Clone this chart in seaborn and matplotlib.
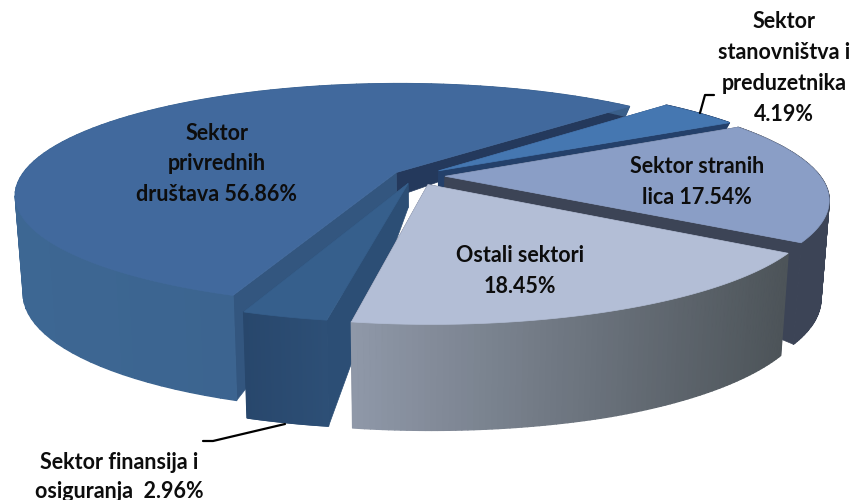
import numpy as np
import matplotlib
matplotlib.use('Agg')
import matplotlib.pyplot as plt
from matplotlib.collections import PolyCollection
from matplotlib.colors import to_rgb
from matplotlib.patches import Polygon
import seaborn as sns

sns.set_theme(style="white")
plt.rcParams['font.family'] = ['Lato', 'DejaVu Sans']

# podaci
sectors = ["Sektor\nprivrednih\ndruštava 56.86%", "Sektor finansija i\nosiguranja  2.96%",
           "Ostali sektori\n18.45%", "Sektor stranih\nlica 17.54%",
           "Sektor\nstanovništva i\npreduzetnika\n4.19%"]
values = [56.86, 2.96, 18.45, 17.54, 4.19]
explode = [0.06, 0.07, 0.085, 0.08, 0.08]

top_colors = ["#41699d", "#365f8c", "#b3bed6", "#8a9ec6", "#4577b1"]
side_start = ["#24395c", "#2c4e75", "#3e4458", "#3c4456", "#24406a"]
side_end = ["#33567f", "#2c4e75", "#3e4458", "#3c4456", "#24406a"]
wall_left = ["#3d6793", "#28476c", "#8f98a8", "#3c4456", "#24406a"]
wall_right = ["#3a5f8a", "#2d4f76", "#4d5459", "#3c4456", "#24406a"]
label_xy = [(217, 164), (119, 477), (520, 271), (697, 182), (784, 68)]
label_spacing = [1.58, 1.44, 1.55, 1.55, 1.58]
draw_order = [0, 4, 3, 1, 2]

# perspektif ayarlari
CX, CY, A, B, K = 415, 176, 375, 108, 0.2
APEX_DEPTH = 24
depth_y = [-1.0, -0.2, 0.05, 0.4, 1.0]
depth_px = [106, 98, 60, 12, 8]


def project(x, y):
    w = 1 + K * y
    return np.column_stack([CX + A * x / w, CY - B * y / w])


def lower(pts, depth):
    # alt kenar biraz iceri kayiyor
    out = pts.copy()
    out[:, 0] = CX + (out[:, 0] - CX) * 0.98
    out[:, 1] += depth
    return out


fig = plt.figure(figsize=(8.54, 5), dpi=100)
ax = fig.add_axes([0, 0, 1, 1])
wedges, _ = ax.pie(values, explode=explode, startangle=45, counterclock=True)
params = [(w.center, w.r, w.theta1, w.theta2) for w in wedges]
for w in wedges:
    w.remove()
ax.set_aspect('auto')
ax.set_xlim(0, 854)
ax.set_ylim(500, 0)
ax.axis('off')

for i in draw_order:
    (cx0, cy0), r, t1, t2 = params[i]
    th = np.radians(np.linspace(t1, t2, 90))
    arc_x = cx0 + r * np.cos(th)
    arc_y = cy0 + r * np.sin(th)
    apex = project(np.array([cx0]), np.array([cy0]))
    apex_low = lower(apex, APEX_DEPTH)

    top = project(arc_x, arc_y)
    bot = lower(top, np.interp(arc_y, depth_y, depth_px))

    # radyal duvarlar
    for j, col in [(0, side_start[i]), (-1, side_end[i])]:
        quad = np.vstack([apex, top[[j]], bot[[j]], apex_low])
        ax.add_patch(Polygon(quad, closed=True, fc=col, ec=col, lw=0.5))

    # dis duvar, soldan saga renk gecisli
    quads = [[top[j], top[j + 1], bot[j + 1], bot[j]] for j in range(len(th) - 1)]
    mid = (top[:-1, 0] + top[1:, 0]) / 2
    f = (mid - mid.min()) / (mid.max() - mid.min())
    c0, c1 = np.array(to_rgb(wall_left[i])), np.array(to_rgb(wall_right[i]))
    cols = [tuple(c0 + (c1 - c0) * v) for v in f]
    ax.add_collection(PolyCollection(quads, facecolors=cols, edgecolors=cols, linewidths=1.0))

    # ust yuzey
    face = np.vstack([apex, top])
    ax.add_patch(Polygon(face, closed=True, fc=top_colors[i], ec=top_colors[i], lw=0.5))

ax.plot([700, 705, 714], [113, 95, 95], color="black", lw=1.6)
ax.plot([285, 213, 203], [424, 441, 441], color="black", lw=1.6)

for name, (x, y), ls in zip(sectors, label_xy, label_spacing):
    ax.text(x, y, name, ha="center", va="center", fontsize=15.5, fontweight="bold",
            color="#0d0d0d", linespacing=ls)

fig.savefig("out.png", dpi=100)
